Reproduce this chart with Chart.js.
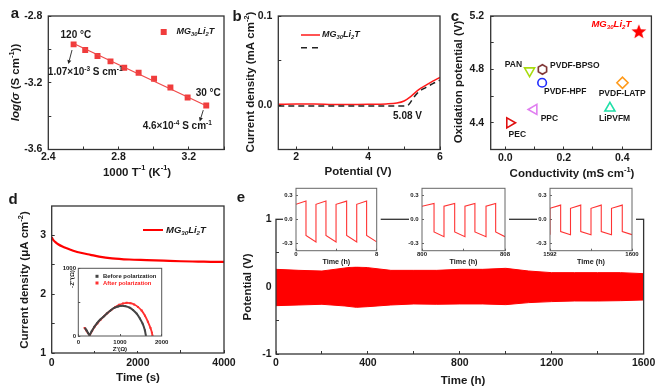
<!DOCTYPE html>
<html>
<head>
<meta charset="utf-8">
<script src="https://cdn.jsdelivr.net/npm/chart.js@4.4.1/dist/chart.umd.min.js"></script>
<style>
  body { margin: 0; background: #fff; }
  #wrap { position: relative; width: 661px; height: 389px; overflow: hidden; background: #fff; }
  #wrap canvas { position: absolute; left: 0; top: 0; }
</style>
</head>
<body>
<div id="wrap"></div>
<script>
// ---- data ----
// a: conductivity vs 1000/T
const aTempC = [120, 110, 100, 90, 80, 70, 60, 50, 40, 30];
const aInvT = [2.544, 2.610, 2.680, 2.754, 2.832, 2.914, 3.002, 3.095, 3.193, 3.299];
const aLogS = [-2.970, -3.004, -3.040, -3.072, -3.110, -3.140, -3.176, -3.228, -3.288, -3.336];
const aFitX = [2.544, 3.299];
const aFitY = [-2.965, -3.338];
const aXTicks = [2.4, 2.6, 2.8, 3.0, 3.2, 3.4];
const aXLabels = ['2.4', '', '2.8', '', '3.2', ''];
const aYTicks = [-3.6, -3.4, -3.2, -3.0, -2.8];
const aYLabels = ['-3.6', '', '-3.2', '', '-2.8'];

// b: LSV
const bV = [1.5, 2.0, 2.5, 3.0, 3.5, 4.0, 4.5, 4.8, 5.0, 5.2, 5.4, 5.6, 5.8, 6.0];
const bJ = [0.0008, 0.0012, 0.0012, 0.0007, 0.0006, 0.0008, 0.0012, 0.0022, 0.0045, 0.0100, 0.0170, 0.0220, 0.0268, 0.0310];
const bVref = [1.5, 2.0, 3.0, 4.0, 5.08, 5.15, 5.25, 5.4, 5.6, 5.8, 6.0];
const bJref = [-0.0012, -0.0012, -0.0012, -0.0012, -0.0010, 0.0015, 0.0075, 0.0145, 0.0196, 0.0240, 0.0280];
const bXTicks = [2, 3, 4, 5, 6];
const bXLabels = ['2', '', '4', '', '6'];
const bYTicks = [-0.05, 0, 0.05, 0.1];
const bYLabels = ['', '0.0', '', '0.1'];

// c: oxidation potential vs conductivity
const cNames = ['MG_{30}Li_{2}T', 'PAN', 'PVDF-BPSO', 'PVDF-HPF', 'PVDF-LATP', 'PPC', 'LiPVFM', 'PEC'];
const cCond = [0.457, 0.083, 0.127, 0.126, 0.401, 0.098, 0.358, 0.015];
const cOxid = [5.08, 4.79, 4.80, 4.70, 4.70, 4.50, 4.51, 4.40];
const cXTicks = [0, 0.1, 0.2, 0.3, 0.4, 0.5];
const cXLabels = ['0.0', '', '0.2', '', '0.4', ''];
const cYTicks = [4.2, 4.4, 4.6, 4.8, 5.0, 5.2];
const cYLabels = ['', '4.4', '', '4.8', '', '5.2'];

// d: polarization current
const dT = [0, 30, 80, 150, 250, 350, 500, 700, 900, 1100, 1400, 1800, 2200, 2600, 3000, 3400, 3800, 4000];
const dJ = [2.97, 2.93, 2.89, 2.85, 2.81, 2.78, 2.74, 2.70, 2.67, 2.64, 2.61, 2.59, 2.58, 2.57, 2.56, 2.555, 2.55, 2.55];
const dXTicks = [0, 1000, 2000, 3000, 4000];
const dXLabels = ['0', '', '2000', '', '4000'];
const dYTicks = [1, 1.5, 2, 2.5, 3];
const dYLabels = ['1', '', '2', '', '3'];
// d inset: impedance before / after
const dZre1 = [167, 200, 235, 270, 320, 380, 445, 520, 603, 680, 762, 850, 950, 1040, 1130, 1230, 1317, 1400, 1476, 1540, 1595, 1620];
const dZim1 = [113, 80, 45, 15, 70, 130, 186, 240, 284, 330, 372, 410, 435, 446, 440, 420, 382, 330, 260, 185, 88, 5];
const dZre2 = [150, 190, 230, 275, 330, 390, 460, 540, 620, 700, 790, 880, 980, 1070, 1160, 1250, 1340, 1430, 1520, 1600, 1670, 1730, 1765, 1778];
const dZim2 = [120, 85, 45, 15, 75, 135, 190, 245, 295, 340, 385, 425, 460, 480, 490, 485, 465, 430, 375, 300, 210, 120, 50, 5];
const diXTicks = [0, 1000, 2000];
const diXLabels = ['0', '1000', '2000'];
const diYTicks = [0, 500, 1000];
const diYLabels = ['0', '', '1000'];

// e: Li/Li cycling envelope
const eT = [0, 100, 200, 300, 350, 400, 500, 600, 700, 800, 900, 1000, 1100, 1200, 1300, 1400, 1500, 1600];
const eUp = [0.257, 0.242, 0.232, 0.277, 0.297, 0.282, 0.242, 0.242, 0.242, 0.257, 0.257, 0.272, 0.232, 0.208, 0.208, 0.208, 0.208, 0.193];
const eLow = [-0.282, -0.272, -0.262, -0.287, -0.307, -0.297, -0.272, -0.257, -0.262, -0.257, -0.257, -0.267, -0.237, -0.222, -0.213, -0.213, -0.208, -0.198];
const eXTicks = [0, 200, 400, 600, 800, 1000, 1200, 1400, 1600];
const eXLabels = ['0', '', '400', '', '800', '', '1200', '', '1600'];
const eYTicks = [-1, -0.5, 0, 0.5, 1];
const eYLabels = ['-1', '', '0', '', '1'];
// e insets: zoomed voltage profiles
const e1T = [0, 0.99, 0.99, 1.98, 1.98, 2.97, 2.97, 3.97, 3.97, 5.02, 5.02, 6.02, 6.02, 7.0, 7.0, 8.0];
const e1V = [0.19, 0.23, -0.20, -0.28, 0.19, 0.23, -0.20, -0.28, 0.19, 0.23, -0.20, -0.28, 0.19, 0.23, -0.20, -0.28];
const e2T = [800, 801.16, 801.16, 802.12, 802.12, 803.15, 803.15, 804.14, 804.14, 805.1, 805.1, 806.17, 806.17, 807.1, 807.1, 808];
const e2V = [0.166, 0.20, -0.155, -0.215, 0.166, 0.20, -0.155, -0.215, 0.166, 0.20, -0.155, -0.215, 0.166, 0.20, -0.155, -0.215];
const e3T = [1592, 1592, 1593.04, 1593.04, 1594, 1594, 1595, 1595, 1596, 1596, 1597, 1597, 1598, 1598, 1599.05, 1599.05, 1600];
const e3V = [-0.19, 0.14, 0.18, -0.15, -0.19, 0.14, 0.18, -0.15, -0.19, 0.14, 0.18, -0.15, -0.19, 0.14, 0.18, -0.15, -0.19];
const eiYTicks = [-0.3, 0, 0.3];
const eiYLabels = ['-0.3', '0.0', '0.3'];

// ---- helpers ----
const W = 661, H = 389;
const FONT = "'Liberation Sans', Arial, Helvetica, sans-serif";
Chart.defaults.font.family = FONT;
Chart.defaults.font.weight = 'bold';
Chart.defaults.color = '#1a1a1a';

const pts = (xs, ys) => xs.map((x, i) => ({x: x, y: ys[i]}));

function segs(s) {
  return s.split(/(\^\{[^}]*\}|_\{[^}]*\}|\|[^|]*\|)/).filter(Boolean).map(p => {
    if (p.startsWith('^{')) return {t: p.slice(2, -1), m: 'sup'};
    if (p.startsWith('_{')) return {t: p.slice(2, -1), m: 'sub'};
    if (p[0] === '|') return {t: p.slice(1, -1), m: '', it: true};
    return {t: p, m: ''};
  });
}

function drawRich(ctx, s, x, y, o) {
  const size = o.size || 10, parts = segs(s);
  const fontOf = p => ((o.italic || p.it) ? 'italic ' : '') + 'bold ' + (p.m ? size * 0.65 : size) + 'px ' + FONT;
  let w = 0;
  parts.forEach(p => { ctx.font = fontOf(p); p.w = ctx.measureText(p.t).width; w += p.w; });
  ctx.translate(x, y);
  if (o.rot) ctx.rotate(o.rot);
  let cx = o.align === 'left' ? 0 : o.align === 'right' ? -w : -w / 2;
  ctx.fillStyle = o.color || '#1a1a1a';
  ctx.textBaseline = 'middle';
  ctx.textAlign = 'left';
  parts.forEach(p => {
    ctx.font = fontOf(p);
    const dy = p.m === 'sup' ? -size * 0.38 : p.m === 'sub' ? size * 0.3 : 0;
    ctx.fillText(p.t, cx, dy);
    cx += p.w;
  });
}

function makeDeco(cfg) {
  return {
    id: 'deco',
    beforeDraw(chart) {
      if (!cfg.inset) return;
      const a = chart.chartArea, ctx = chart.ctx, m = cfg.inset;
      ctx.save();
      ctx.fillStyle = '#fff';
      ctx.fillRect(a.left - m[0], a.top - 1, a.right - a.left + m[0] + m[1], a.bottom - a.top + 1 + m[2]);
      ctx.restore();
    },
    afterDraw(chart) {
      const ctx = chart.ctx, a = chart.chartArea, xs = chart.scales.x, ys = chart.scales.y;
      ctx.save();
      ctx.strokeStyle = cfg.boxColor || '#333';
      ctx.lineWidth = cfg.boxWidth || 1.3;
      ctx.strokeRect(a.left, a.top, a.right - a.left, a.bottom - a.top);
      ctx.restore();
      const P = (m, x, y) => m.data ? [xs.getPixelForValue(x), ys.getPixelForValue(y)] : [x, y];
      (cfg.marks || []).forEach(m => {
        ctx.save();
        if (m.arrow) {
          const [x1, y1] = P(m, m.arrow[0], m.arrow[1]);
          const [x2, y2] = P(m, m.arrow[2], m.arrow[3]);
          const ang = Math.atan2(y2 - y1, x2 - x1), hl = 4, hw = 2;
          ctx.strokeStyle = ctx.fillStyle = '#222';
          ctx.lineWidth = 0.9;
          ctx.beginPath(); ctx.moveTo(x1, y1); ctx.lineTo(x2 - hl * Math.cos(ang), y2 - hl * Math.sin(ang)); ctx.stroke();
          ctx.beginPath();
          ctx.moveTo(x2, y2);
          ctx.lineTo(x2 - hl * Math.cos(ang) + hw * Math.sin(ang), y2 - hl * Math.sin(ang) - hw * Math.cos(ang));
          ctx.lineTo(x2 - hl * Math.cos(ang) - hw * Math.sin(ang), y2 - hl * Math.sin(ang) + hw * Math.cos(ang));
          ctx.closePath(); ctx.fill();
        } else if (m.line) {
          ctx.strokeStyle = m.color || '#222';
          ctx.lineWidth = m.width || 1.5;
          ctx.setLineDash(m.dash || []);
          ctx.beginPath(); ctx.moveTo(m.line[0], m.line[1]); ctx.lineTo(m.line[2], m.line[3]); ctx.stroke();
        } else if (m.square) {
          const [x, y, s] = m.square;
          ctx.fillStyle = m.color;
          ctx.fillRect(x - s / 2, y - s / 2, s, s);
        } else {
          const [x, y] = P(m, m.x, m.y);
          drawRich(ctx, m.text, x, y, m);
        }
        ctx.restore();
      });
    }
  };
}

function lin(pos, min, max, ticks, labels, o) {
  o = o || {};
  return {
    type: 'linear', position: pos, min: min, max: max,
    afterBuildTicks: s => { s.ticks = ticks.map(v => ({value: v})); },
    grid: {drawOnChartArea: false, drawTicks: true, tickLength: -(o.tl || 3), color: o.c || '#333', lineWidth: 1},
    border: {display: false},
    ticks: {
      autoSkip: false, maxRotation: 0, minRotation: 0, padding: o.pad, color: '#1a1a1a',
      font: {size: o.fs || 10.5, weight: 'bold'},
      callback: (v, i) => labels[i]
    }
  };
}

function makeChart(rect, cfg) {
  const [l, t, r, b] = rect;
  const wy = cfg.wy || 30, hx = cfg.hx || 20;
  const canvas = document.createElement('canvas');
  canvas.width = W; canvas.height = H;
  canvas.style.width = W + 'px'; canvas.style.height = H + 'px';
  document.getElementById('wrap').appendChild(canvas);
  const x = Object.assign({}, cfg.x, {afterFit: s => { s.height = hx; }});
  const y = Object.assign({}, cfg.y, {afterFit: s => { s.width = wy; }});
  return new Chart(canvas, {
    type: 'line',
    data: {datasets: cfg.datasets},
    options: {
      responsive: false, animation: false, events: [],
      layout: {padding: {left: l - wy, top: t, right: W - r, bottom: H - b - hx}},
      elements: {point: {radius: 0}, line: {tension: 0}},
      plugins: {legend: {display: false}, tooltip: {enabled: false}},
      scales: {x: x, y: y}
    },
    plugins: [makeDeco(cfg)]
  });
}

function starImg(r, color) {
  const c = document.createElement('canvas'), s = Math.ceil(r * 2 + 2);
  c.width = c.height = s;
  const g = c.getContext('2d');
  g.translate(s / 2, s / 2);
  g.beginPath();
  for (let i = 0; i < 10; i++) {
    const rr = i % 2 ? r * 0.42 : r, an = -Math.PI / 2 + i * Math.PI / 5;
    g.lineTo(rr * Math.cos(an), rr * Math.sin(an));
  }
  g.closePath(); g.fillStyle = color; g.fill();
  return c;
}
function hexImg(r, color, lw) {
  const c = document.createElement('canvas'), s = Math.ceil(r * 2 + lw * 2 + 2);
  c.width = c.height = s;
  const g = c.getContext('2d');
  g.translate(s / 2, s / 2);
  g.beginPath();
  for (let i = 0; i < 6; i++) {
    const an = -Math.PI / 2 + i * Math.PI / 3;
    g.lineTo(r * Math.cos(an), r * Math.sin(an));
  }
  g.closePath(); g.strokeStyle = color; g.lineWidth = lw; g.stroke();
  return c;
}

const RED = '#ff0000';

// ---- panel a ----
makeChart([48.3, 16, 224, 149.5], {
  x: lin('bottom', 2.4, 3.4, aXTicks, aXLabels, {pad: 4.2}),
  y: lin('left', -3.6, -2.8, aYTicks, aYLabels, {pad: 9}),
  datasets: [
    {data: pts(aFitX, aFitY), borderColor: '#f04848', borderWidth: 1.2, pointRadius: 0},
    {data: pts(aInvT, aLogS), showLine: false, pointStyle: 'rect', pointRadius: 4.2,
     pointBackgroundColor: '#f03c3c', pointBorderWidth: 0}
  ],
  marks: [
    {text: 'a', x: 15, y: 14, size: 15},
    {text: '|log(σ| (S cm^{-1}))', x: 16, y: 82.5, size: 11.5, rot: -Math.PI / 2},
    {text: '1000 T^{-1} (K^{-1})', x: 137, y: 172.5, size: 11.5},
    {square: [163.7, 32, 6], color: '#f03c3c'},
    {text: 'MG_{30}Li_{2}T', x: 176.5, y: 31.7, size: 9, italic: true, align: 'left'},
    {text: aTempC[0] + ' °C', data: true, x: 2.557, y: -2.914, size: 10},
    {text: '1.07×10^{-3} S cm^{-1}', data: true, x: 2.61, y: -3.14, size: 10},
    {text: aTempC[9] + ' °C', data: true, x: 3.31, y: -3.26, size: 10},
    {text: '4.6×10^{-4} S cm^{-1}', data: true, x: 3.134, y: -3.463, size: 10},
    {arrow: [2.535, -3.004, 2.514, -3.088], data: true},
    {arrow: [3.282, -3.364, 3.262, -3.432], data: true}
  ]
});

// ---- panel b ----
makeChart([278.3, 16, 440, 149.5], {
  x: lin('bottom', 1.5, 6, bXTicks, bXLabels, {pad: 4.2}),
  y: lin('left', -0.05, 0.1, bYTicks, bYLabels, {pad: 9}),
  datasets: [
    {data: pts(bVref, bJref), borderColor: '#222', borderWidth: 1.5, borderDash: [6, 4],
     cubicInterpolationMode: 'monotone', pointRadius: 0},
    {data: pts(bV, bJ), borderColor: '#ff1a1a', borderWidth: 1.5,
     cubicInterpolationMode: 'monotone', pointRadius: 0}
  ],
  marks: [
    {text: 'b', x: 237, y: 17, size: 15},
    {text: 'Current density (mA cm^{-2})', x: 251, y: 82, size: 11.5, rot: -Math.PI / 2},
    {text: 'Potential (V)', x: 358, y: 171.7, size: 11.5},
    {line: [301, 35, 320, 35], color: '#ff1a1a', width: 1.5},
    {text: 'MG_{30}Li_{2}T', x: 322, y: 35, size: 9, italic: true, align: 'left'},
    {line: [301, 47.7, 320, 47.7], color: '#222', width: 1.5, dash: [6, 5]},
    {text: '5.08 V', x: 407.5, y: 116.7, size: 10}
  ]
});

// ---- panel c ----
const cStyle = [
  {pointStyle: starImg(7.8, RED), pointRadius: 8},
  {pointStyle: 'triangle', pointRadius: 5.8, pointRotation: 180, pointBorderColor: '#a8dc10'},
  {pointStyle: hexImg(4.8, '#7a2c2c', 1.6), pointRadius: 6},
  {pointStyle: 'circle', pointRadius: 4.3, pointBorderColor: '#1f2cff'},
  {pointStyle: 'rectRot', pointRadius: 5.6, pointBorderColor: '#ff9a1a'},
  {pointStyle: 'triangle', pointRadius: 5.8, pointRotation: 270, pointBorderColor: '#e07ff0'},
  {pointStyle: 'triangle', pointRadius: 5.8, pointRotation: 0, pointBorderColor: '#20e0a8'},
  {pointStyle: 'triangle', pointRadius: 5.8, pointRotation: 90, pointBorderColor: '#e01010'}
];
const cLabelPos = [[0.363, 5.138], [0.028, 4.834], [0.238, 4.827], [0.205, 4.630],
                   [0.400, 4.616], [0.151, 4.429], [0.374, 4.429], [0.041, 4.312]];
makeChart([490.7, 16, 651.7, 149.5], {
  x: lin('bottom', -0.05, 0.5, cXTicks, cXLabels, {pad: 5}),
  y: lin('left', 4.2, 5.2, cYTicks, cYLabels, {pad: 9.5}),
  datasets: cNames.map((n, i) => Object.assign({
    data: [{x: cCond[i], y: cOxid[i]}], showLine: false,
    pointBackgroundColor: 'rgba(0,0,0,0)', pointBorderWidth: 1.6
  }, cStyle[i])),
  marks: [
    {text: 'c', x: 455, y: 17, size: 15},
    {text: 'Oxidation potential (V)', x: 459, y: 82, size: 11.5, rot: -Math.PI / 2},
    {text: 'Conductivity (mS cm^{-1})', x: 572, y: 174, size: 11.5}
  ].concat(cNames.map((n, i) => ({
    text: n, data: true, x: cLabelPos[i][0], y: cLabelPos[i][1],
    size: i === 0 ? 9.5 : 8.5, italic: i === 0, color: i === 0 ? RED : '#1a1a1a'
  })))
});

// ---- panel d ----
makeChart([51.7, 206, 224, 353], {
  x: lin('bottom', 0, 4000, dXTicks, dXLabels, {pad: 6.7}),
  y: lin('left', 1, 3.5, dYTicks, dYLabels, {pad: 8.7}),
  datasets: [
    {data: pts(dT, dJ), borderColor: RED, borderWidth: 2.2, cubicInterpolationMode: 'monotone', pointRadius: 0}
  ],
  marks: [
    {text: 'd', x: 13, y: 200, size: 15},
    {text: 'Current density (μA cm^{-2})', x: 25, y: 280, size: 11.5, rot: -Math.PI / 2},
    {text: 'Time (s)', x: 138, y: 378, size: 11.5},
    {line: [143, 230, 163, 230], color: RED, width: 2},
    {text: 'MG_{30}Li_{2}T', x: 166, y: 230, size: 9.5, italic: true, align: 'left'}
  ]
});

// d inset
makeChart([78.3, 268.3, 161.7, 336], {
  wy: 20, hx: 10, inset: [16, 3, 15], boxColor: '#555', boxWidth: 1,
  x: lin('bottom', 0, 2000, diXTicks, diXLabels, {pad: 5.1, fs: 6, tl: 2, c: '#555'}),
  y: lin('left', 0, 1000, diYTicks, diYLabels, {pad: 4.3, fs: 6, tl: 2, c: '#555'}),
  datasets: [
    {data: pts(dZre1, dZim1), borderColor: '#444', borderWidth: 2, tension: 0.3,
     pointRadius: 1.2, pointStyle: 'rect', pointBackgroundColor: '#444', pointBorderWidth: 0},
    {data: pts(dZre2, dZim2), borderColor: '#ff3030', borderWidth: 1.8, tension: 0.3,
     pointRadius: 1.4, pointStyle: 'rect', pointBackgroundColor: '#ff3030', pointBorderWidth: 0}
  ],
  marks: [
    {text: "-Z''(Ω)", x: 72.5, y: 279, size: 6.2, rot: -Math.PI / 2},
    {text: "Z'(Ω)", x: 120, y: 349, size: 6.2},
    {square: [97, 276.3, 3], color: '#444'},
    {text: 'Before polarization', x: 103, y: 276.3, size: 5.9, align: 'left'},
    {square: [97, 283, 3], color: '#ff3030'},
    {text: 'After polarization', x: 103, y: 283, size: 5.9, align: 'left', color: '#ff2020'}
  ]
});

// ---- panel e ----
makeChart([276, 219.3, 648, 354], {
  x: lin('bottom', 0, 1600, eXTicks, eXLabels, {pad: 5.7}),
  y: lin('left', -1, 1, eYTicks, eYLabels, {pad: 7.5}),
  datasets: [
    {data: pts(eT, eUp), borderColor: RED, backgroundColor: RED, borderWidth: 1, fill: '+1', pointRadius: 0},
    {data: pts(eT, eLow), borderColor: RED, borderWidth: 1, fill: false, pointRadius: 0}
  ],
  marks: [
    {text: 'e', x: 241, y: 198, size: 15},
    {text: 'Potential (V)', x: 248, y: 287, size: 11.5, rot: -Math.PI / 2},
    {text: 'Time (h)', x: 463, y: 380.5, size: 11.5}
  ]
});

// e insets
function eInset(rect, ts, vs, xmin, xmax) {
  makeChart(rect, {
    wy: 20, hx: 10, inset: [13, 4, 16], boxColor: '#666', boxWidth: 1,
    x: lin('bottom', xmin, xmax, [xmin, (xmin + xmax) / 2, xmax], [String(xmin), '', String(xmax)],
           {pad: 1.8, fs: 6, tl: 2, c: '#666'}),
    y: lin('left', -0.39, 0.39, eiYTicks, eiYLabels, {pad: 5.3, fs: 6, tl: 2, c: '#666'}),
    datasets: [{data: pts(ts, vs), borderColor: '#ff3333', borderWidth: 1.1, pointRadius: 0}],
    marks: [{text: 'Time (h)', x: (rect[0] + rect[2]) / 2, y: rect[3] + 11.5, size: 7.2}]
  });
}
eInset([296, 188.3, 376.7, 250.7], e1T, e1V, 0, 8);
eInset([422, 188.3, 505, 250.7], e2T, e2V, 800, 808);
eInset([550, 188.3, 632, 250.7], e3T, e3V, 1592, 1600);
</script>
</body>
</html>
